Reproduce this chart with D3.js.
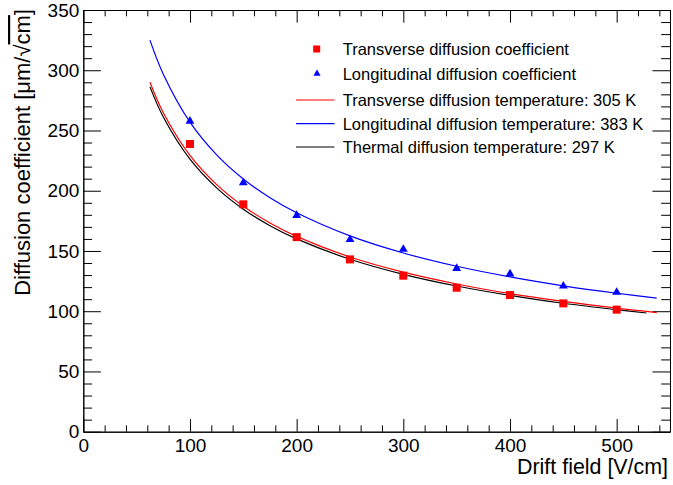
<!DOCTYPE html>
<html lang="en">
  <head>
    <meta charset="UTF-8" />
    <title>Diffusion coefficient vs drift field</title>
    <script src="https://d3js.org/d3.v7.min.js"></script>
    <style>
      body {
        margin: 0;
        background: #fff;
      }
      svg {
        display: block;
        font-family: "Liberation Sans", Arial, Helvetica, sans-serif;
      }
      .axis path,
      .axis line {
        stroke: #000;
      }
      .axis text {
        font-size: 19px;
        fill: #000;
      }
    </style>
  </head>
  <body>
    <script>
      // Measured points
      const fields = [100, 150, 200, 250, 300, 350, 400, 450, 500];
      const transverse = [238.8, 188.7, 161.5, 143.0, 129.5, 119.5, 113.4, 106.5, 101.3];
      const longitudinal = [257.7, 206.6, 179.5, 159.5, 151.4, 135.6, 130.9, 120.9, 115.7];

      // Curves at these fields
      const curveField = [62.5, 75, 100, 125, 150, 175, 200, 250, 300, 350, 400, 450, 500, 537.5];
      const curveTrans = [290.0, 264.7, 229.3, 205.1, 187.2, 173.3, 162.1, 145.0, 132.4, 122.6, 114.6, 108.1, 102.5, 98.9];
      const curveLong = [325.0, 296.7, 256.9, 229.8, 209.8, 194.2, 181.7, 162.5, 148.3, 137.3, 128.5, 121.1, 114.9, 110.8];
      const thermalField = [62.5, 75, 100, 125, 150, 175, 200, 250, 300, 350, 400, 450, 500, 528];
      const curveThermal = [286.2, 261.2, 226.2, 202.4, 184.7, 171.0, 160.0, 143.1, 130.6, 120.9, 113.1, 106.6, 101.2, 98.5];

      const xMajor = [0, 100, 200, 300, 400, 500];
      const yMajor = [0, 50, 100, 150, 200, 250, 300, 350];

      const legendLabels = [
        "Transverse diffusion coefficient",
        "Longitudinal diffusion coefficient",
        "Transverse diffusion temperature: 305 K",
        "Longitudinal diffusion temperature: 383 K",
        "Thermal diffusion temperature: 297 K",
      ];

      const W = 673,
        H = 485;
      const margin = { top: 10, right: 3, bottom: 53.3, left: 83.3 };
      const width = W - margin.left - margin.right;
      const height = H - margin.top - margin.bottom;

      const svg = d3.select("body").append("svg").attr("width", W).attr("height", H);
      const g = svg.append("g").attr("transform", `translate(${margin.left},${margin.top})`);

      const x = d3.scaleLinear().domain([0, 550]).range([0, width]);
      const y = d3.scaleLinear().domain([0, 350]).range([height, 0]);

      const xMinor = d3.range(0, 551, 20).filter((v) => v % 100 !== 0);
      const yMinor = d3.range(0, 351, 10).filter((v) => v % 50 !== 0);

      // ROOT style: tick length 3% of the other side, minor half of it
      const xTick = 0.03 * height;
      const yTick = 0.03 * width;

      // bottom axis (ticks pointing up)
      g.append("g")
        .attr("class", "axis")
        .attr("transform", `translate(0,${height})`)
        .call(d3.axisBottom(x).tickValues(xMajor).tickSizeInner(-xTick).tickSizeOuter(0).tickPadding(7).tickFormat(d3.format("d")));
      g.append("g")
        .attr("class", "axis")
        .attr("transform", `translate(0,${height})`)
        .call(d3.axisBottom(x).tickValues(xMinor).tickSizeInner(-xTick / 2).tickSizeOuter(0).tickFormat(""));

      // top axis (ticks pointing down)
      g.append("g").attr("class", "axis").call(d3.axisTop(x).tickValues(xMajor).tickSizeInner(-xTick).tickSizeOuter(0).tickFormat(""));
      g.append("g").attr("class", "axis").call(d3.axisTop(x).tickValues(xMinor).tickSizeInner(-xTick / 2).tickSizeOuter(0).tickFormat(""));

      // left axis
      g.append("g")
        .attr("class", "axis")
        .call(d3.axisLeft(y).tickValues(yMajor).tickSizeInner(-yTick).tickSizeOuter(0).tickPadding(4).tickFormat(d3.format("d")));
      g.append("g").attr("class", "axis").call(d3.axisLeft(y).tickValues(yMinor).tickSizeInner(-yTick / 2).tickSizeOuter(0).tickFormat(""));

      // right axis
      g.append("g")
        .attr("class", "axis")
        .attr("transform", `translate(${width},0)`)
        .call(d3.axisRight(y).tickValues(yMajor).tickSizeInner(-yTick).tickSizeOuter(0).tickFormat(""));
      g.append("g")
        .attr("class", "axis")
        .attr("transform", `translate(${width},0)`)
        .call(d3.axisRight(y).tickValues(yMinor).tickSizeInner(-yTick / 2).tickSizeOuter(0).tickFormat(""));

      // curves
      const line = d3
        .line()
        .x((d) => x(d[0]))
        .y((d) => y(d[1]))
        .curve(d3.curveCatmullRom);

      const curves = [
        { xs: thermalField, ys: curveThermal, color: "#000" },
        { xs: curveField, ys: curveTrans, color: "#ff0000" },
        { xs: curveField, ys: curveLong, color: "#0000ff" },
      ];
      curves.forEach((c) => {
        g.append("path")
          .datum(d3.zip(c.xs, c.ys))
          .attr("fill", "none")
          .attr("stroke", c.color)
          .attr("stroke-width", 1.2)
          .attr("d", line);
      });

      // markers
      const sq = 8;
      g.selectAll(".sq")
        .data(d3.zip(fields, transverse))
        .enter()
        .append("rect")
        .attr("x", (d) => x(d[0]) - sq / 2)
        .attr("y", (d) => y(d[1]) - sq / 2)
        .attr("width", sq)
        .attr("height", sq)
        .attr("fill", "#ff0000");

      const tri = d3.symbol().type(d3.symbolTriangle).size(34);
      g.selectAll(".tri")
        .data(d3.zip(fields, longitudinal))
        .enter()
        .append("path")
        .attr("transform", (d) => `translate(${x(d[0])},${y(d[1])})`)
        .attr("d", tri)
        .attr("fill", "#0000ff");

      // legend
      const legY = [49, 73.7, 100, 123.7, 147];
      const legend = svg.append("g");
      legend
        .append("rect")
        .attr("x", 316.7 - 3.5)
        .attr("y", legY[0] - 3.5)
        .attr("width", 7)
        .attr("height", 7)
        .attr("fill", "#ff0000");
      legend
        .append("path")
        .attr("transform", `translate(317,${legY[1]})`)
        .attr("d", d3.symbol().type(d3.symbolTriangle).size(22))
        .attr("fill", "#0000ff");
      ["#ff0000", "#0000ff", "#000"].forEach((c, i) => {
        legend
          .append("line")
          .attr("x1", 296)
          .attr("x2", 334.5)
          .attr("y1", legY[i + 2])
          .attr("y2", legY[i + 2])
          .attr("stroke", c)
          .attr("stroke-width", 1.2);
      });
      legend
        .selectAll("text")
        .data(legendLabels)
        .enter()
        .append("text")
        .attr("x", 342.7)
        .attr("y", (d, i) => legY[i] + 5.8)
        .style("font-size", "16.5px")
        .text((d) => d);

      // axis titles
      svg.append("text")
        .attr("x", margin.left + width - 2)
        .attr("y", 474)
        .attr("text-anchor", "end")
        .style("font-size", "21.4px")
        .text("Drift field [V/cm]");

      const yTitle = svg
        .append("text")
        .attr("transform", "translate(30,9) rotate(-90)")
        .attr("text-anchor", "end")
        .style("font-size", "22px");
      yTitle.append("tspan").text("Diffusion coefficient [\u03bcm/\u221a");
      yTitle.append("tspan").style("text-decoration", "overline").text("cm");
      yTitle.append("tspan").text("]");
    </script>
  </body>
</html>
